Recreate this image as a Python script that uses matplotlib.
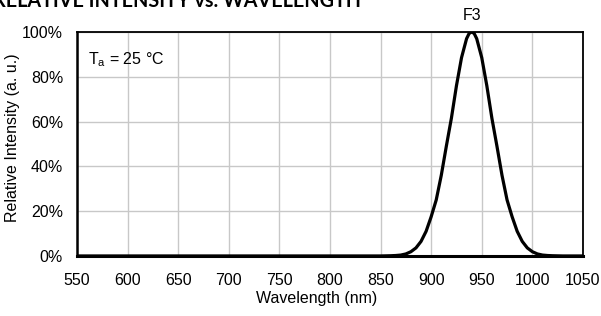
import numpy as np
import matplotlib.pyplot as plt
from matplotlib.ticker import FuncFormatter

plt.rcParams['font.family'] = ['Liberation Sans', 'DejaVu Sans']

# spectrum (nm, relative intensity %)
wavelength = [550, 600, 700, 800, 850, 860, 865, 870, 875, 880, 885, 890, 895, 900,
              905, 910, 915, 920, 925, 930, 935, 937.5, 940, 942.5, 945, 950, 955, 960,
              965, 970, 975, 980, 985, 990, 995, 1000, 1005, 1010, 1015, 1020, 1030, 1050]
intensity = [0, 0, 0, 0, 0, 0.1, 0.2, 0.4, 0.9, 1.9, 3.6, 6.5, 11.0, 17.5,
             25.0, 36.0, 49.0, 61.5, 76.0, 88.5, 97.0, 99.3, 100, 99.3, 97.0, 88.5, 76.0, 61.5,
             49.0, 36.0, 25.0, 17.5, 11.0, 6.5, 3.6, 1.9, 0.9, 0.4, 0.2, 0.1, 0, 0]

xticks = [550, 600, 650, 700, 750, 800, 850, 900, 950, 1000, 1050]
yticks = [0, 20, 40, 60, 80, 100]

fig = plt.figure(figsize=(6.01, 3.16), dpi=100)
ax = fig.add_axes([0.128, 0.19, 0.842, 0.709])

ax.plot(wavelength, intensity, color="black", linewidth=2.3,
        solid_capstyle="round", solid_joinstyle="round")

ax.set_xlim(550, 1050)
ax.set_ylim(0, 100)
ax.set_xticks(xticks)
ax.set_yticks(yticks)
ax.yaxis.set_major_formatter(FuncFormatter(lambda v, p: "%d%%" % v))
ax.tick_params(length=0, labelsize=11.5)
ax.tick_params(axis="x", pad=12)
ax.tick_params(axis="y", pad=10)
ax.grid(color="#c8c8c8", linewidth=1)
ax.set_axisbelow(True)
for s in ["top", "right"]:
    ax.spines[s].set_linewidth(1.3)
ax.spines["left"].set_linewidth(1.8)
ax.spines["bottom"].set_linewidth(2.2)

ax.set_xlabel("Wavelength (nm)", fontsize=11.5)
ax.set_ylabel("Relative Intensity (a. u.)", fontsize=11.5)
ax.xaxis.set_label_coords(0.474, -0.155)
ax.yaxis.set_label_coords(-0.113, 0.527)

ax.text(0.022, 0.875, r"T$_\mathregular{a}$ = 25 °C", transform=ax.transAxes,
        fontsize=11.5, va="center", ha="left")
ax.text(940, 105.4, "F3", fontsize=11.5, ha="center", va="baseline")

fig.text(-0.012, 0.978, "RELATIVE INTENSITY vs. WAVELENGTH", fontsize=14.2,
         fontweight="bold", family="Lato", va="baseline", ha="left")

fig.savefig("out.png", dpi=100)
